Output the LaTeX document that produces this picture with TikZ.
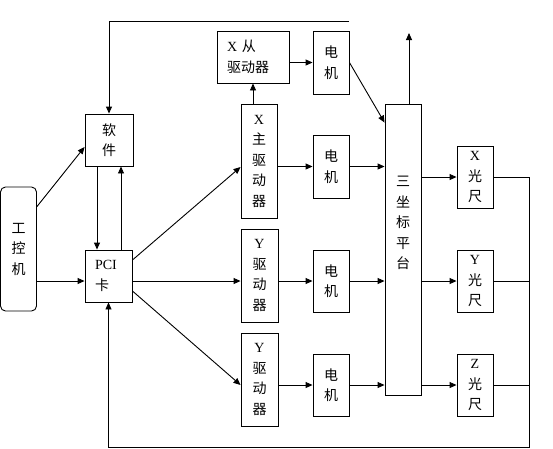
\documentclass[tikz,border=0pt]{standalone}
\usepackage{fontspec}
\setmainfont{Liberation Serif}
\newfontfamily\cjk{Noto Sans CJK SC}
\usetikzlibrary{arrows.meta}
\newcommand{\lat}[1]{{\rmfamily #1}}
\tikzset{
  bx/.style={draw, line width=0.9pt, inner sep=0pt, align=center,
    font=\cjk\fontsize{14}{20.5}\selectfont},
  tall/.style={bx, minimum width=36pt, minimum height=#1},
  arr/.style={line width=0.9pt, -{Triangle[length=7pt,width=6pt]}},
  ln/.style={line width=0.9pt},
}
\begin{document}
\begin{tikzpicture}[x=1pt,y=-1pt]
\useasboundingbox (0,0) rectangle (553,448);
% boxes
\node[bx, rounded corners=5pt, minimum width=36pt, minimum height=124pt] (ipc) at (18.5,249) {工\\控\\机};
\node[bx, minimum width=48pt, minimum height=52pt] (sw) at (109,140) {软\\件};
\node[bx, minimum width=47pt, minimum height=52pt, text width=27pt, align=left] (pci) at (108.5,276) {\lat{PCI}\\卡};
\node[bx, minimum width=72pt, minimum height=52pt, text width=52pt, align=left] (xc) at (253,57) {\lat{X} 从\\驱动器};
\node[tall=114pt] (xz) at (259,161) {\lat{X}\\主\\驱\\动\\器};
\node[tall=93pt, minimum width=37pt] (y1) at (259.5,275.5) {\lat{Y}\\驱\\动\\器};
\node[tall=93pt, minimum width=37pt] (y2) at (259.5,379.5) {\lat{Y}\\驱\\动\\器};
\node[tall=63pt] (m1) at (331,62.5) {电\\机};
\node[tall=63pt] (m2) at (331,166.5) {电\\机};
\node[tall=62pt] (m3) at (331,281) {电\\机};
\node[tall=62pt] (m4) at (331,385) {电\\机};
\node[tall=291pt] (pt) at (403,249.5) {};
\node[bx, draw=none] (ptt) at (403,223) {三\\坐\\标\\平\\台};
\node[tall=62pt] (gx) at (475,177) {\lat{X}\\光\\尺};
\node[tall=62pt] (gy) at (475,281) {\lat{Y}\\光\\尺};
\node[tall=62pt] (gz) at (475,385) {\lat{Z}\\光\\尺};
% free ends
\coordinate (tl) at (349,21);
\coordinate (bl) at (529,447);
\coordinate (up) at (409,33);
\path ([yshift=-5pt]pci.west) coordinate (pin);
% connectors
\draw[arr] (tl) -| (sw.north);
\draw[arr] ([yshift=-20pt]ipc.north east) -- ([yshift=-7pt]sw.west);
\draw[arr] (ipc.east |- pin) -- (pin);
\draw[arr] ([xshift=-12pt]sw.south) -- ([xshift=-12pt]sw.south |- pci.north);
\draw[arr] ([xshift=12pt]sw.south |- pci.north) -- ([xshift=12pt]sw.south);
\draw[arr] ([yshift=16pt]pci.east) -- ([yshift=-6pt]xz.west);
\draw[arr] (pci.east |- pin) -- (y1.west |- pin);
\draw[arr] ([yshift=-15pt]pci.east) -- ([yshift=-5.5pt]y2.west);
\draw[arr] (gx.east) -| (bl) -| (pci.south);
\draw[ln] (gy.east) -- (gy.east -| bl);
\draw[ln] (gz.east) -- (gz.east -| bl);
\draw[arr] (xc.south |- xz.north) -- (xc.south);
\draw[arr] (m1.west -| xc.east) -- (m1.west);
\draw[arr] (m1.east) -- ([yshift=-19pt]pt.north west);
\draw[arr] (m2.west -| xz.east) -- (m2.west);
\draw[arr] (m2.east) -- (m2.east -| pt.west);
\draw[arr] (m3.west -| y1.east) -- (m3.west);
\draw[arr] (m3.east) -- (m3.east -| pt.west);
\draw[arr] (m4.west -| y2.east) -- (m4.west);
\draw[arr] (m4.east) -- (m4.east -| pt.west);
\draw[arr] (gx.west -| pt.east) -- (gx.west);
\draw[arr] (gy.west -| pt.east) -- (gy.west);
\draw[arr] (gz.west -| pt.east) -- (gz.west);
\draw[arr] (pt.north -| up) -- (up);
\end{tikzpicture}
\end{document}
